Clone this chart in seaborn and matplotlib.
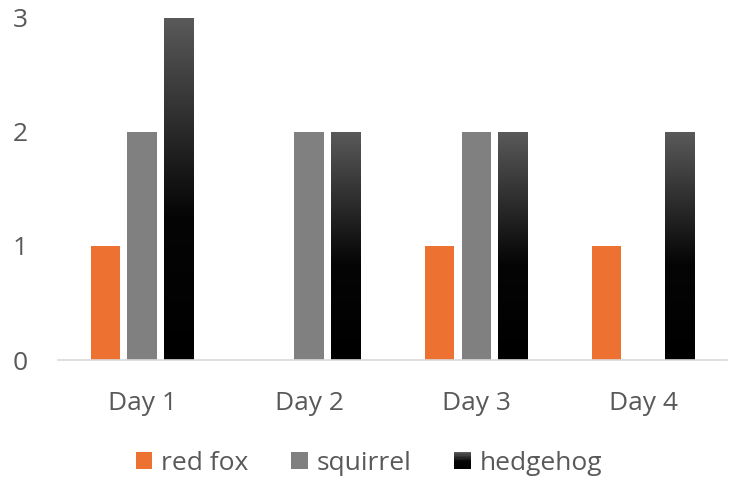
import numpy as np
import pandas as pd
import matplotlib
matplotlib.use("Agg")
import matplotlib.pyplot as plt
import seaborn as sns
from matplotlib.patches import Rectangle
from matplotlib.legend_handler import HandlerBase
from matplotlib.colors import LinearSegmentedColormap

categories = ["Day 1", "Day 2", "Day 3", "Day 4"]
series = ["red fox", "squirrel", "hedgehog"]
red_fox = [1, 0, 1, 1]
squirrel = [2, 2, 2, 0]
hedgehog = [3, 2, 2, 2]
yticks = [0, 1, 2, 3]

colors = {"red fox": "#ED7131", "squirrel": "#808080", "hedgehog": "#000000"}
text_color = "#595959"

rows = []
for name, vals in zip(series, [red_fox, squirrel, hedgehog]):
    for c, v in zip(categories, vals):
        rows.append({"day": c, "animal": name, "value": v})
df = pd.DataFrame(rows)

sns.set_theme(style="white")
plt.rcParams["font.family"] = ["Open Sans", "DejaVu Sans"]

fig = plt.figure(figsize=(7.31, 4.82), dpi=100)
ax = fig.add_axes([0.08, 0.2531, 0.9145, 0.7096])

sns.barplot(data=df, x="day", y="value", hue="animal", hue_order=series,
            order=categories, palette=colors, width=0.66, gap=0.2,
            saturation=1, legend=False, ax=ax, errorbar=None, linewidth=0)

cmap = LinearSegmentedColormap.from_list("hg", [(0, "#5a5a5a"), (0.58, "#050505"), (1.0, "#000000")])
grad = np.linspace(0, 1, 256).reshape(-1, 1)

hcont = ax.containers[2]
for p in hcont.patches:
    x0, y0 = p.get_x(), p.get_y()
    w, h = p.get_width(), p.get_height()
    if h <= 0:
        continue
    im = ax.imshow(grad, cmap=cmap, aspect="auto", extent=[x0, x0 + w, y0, y0 + h],
                   origin="upper", zorder=p.get_zorder())
    im.set_clip_path(p)
    p.set_facecolor("none")
    p.set_edgecolor("none")

ax.set_xlim(-0.5, 3.5)
ax.set_ylim(0, 3)
ax.set_yticks(yticks)
ax.set_xlabel("")
ax.set_ylabel("")
for s in ["top", "right", "left"]:
    ax.spines[s].set_visible(False)
ax.spines["bottom"].set_color("#d9d9d9")
ax.spines["bottom"].set_linewidth(1.2)
ax.tick_params(axis="both", length=0, labelsize=19, labelcolor=text_color)
ax.tick_params(axis="y", pad=22)
ax.tick_params(axis="x", pad=22)


class GradHandler(HandlerBase):
    def create_artists(self, legend, orig_handle, xdescent, ydescent, width, height, fontsize, trans):
        artists = []
        n = 12
        size = height
        x = xdescent + (width - size) / 2
        for i in range(n):
            col = cmap(i / (n - 1))
            r = Rectangle((x, -ydescent + size * (1 - (i + 1) / n)), size, size / n + 0.3,
                          facecolor=col, edgecolor="none", transform=trans)
            artists.append(r)
        return artists


class SquareHandler(HandlerBase):
    def create_artists(self, legend, orig_handle, xdescent, ydescent, width, height, fontsize, trans):
        size = height
        x = xdescent + (width - size) / 2
        r = Rectangle((x, -ydescent), size, size, facecolor=orig_handle.get_facecolor(),
                      edgecolor="none", transform=trans)
        return [r]


h1 = Rectangle((0, 0), 1, 1, facecolor=colors["red fox"])
h2 = Rectangle((0, 0), 1, 1, facecolor=colors["squirrel"])
h3 = Rectangle((0, 0), 1, 1, facecolor="black")
leg = fig.legend([h1, h2, h3], series, loc="center", bbox_to_anchor=(0.505, 0.039), ncol=3,
                 frameon=False, fontsize=19, handlelength=0.6, handleheight=0.6,
                 handletextpad=0.34, columnspacing=1.65,
                 handler_map={h1: SquareHandler(), h2: SquareHandler(), h3: GradHandler()})
for t in leg.get_texts():
    t.set_color(text_color)

fig.savefig("out.png", dpi=100)
